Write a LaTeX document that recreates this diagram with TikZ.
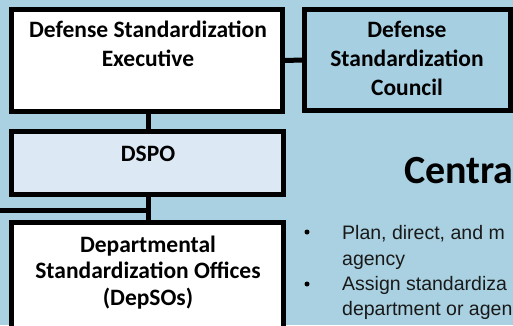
\documentclass[tikz,border=0pt]{standalone}
\usepackage{fontspec}
\setmainfont{Carlito}
\newfontfamily\bodyfont{Liberation Sans}
\definecolor{bgblue}{HTML}{A9D1E1}
\definecolor{councilblue}{HTML}{A6CFE1}
\definecolor{dspofill}{HTML}{DCE9F5}
\tikzset{
  orgbox/.style={draw=black, line width=5pt, inner sep=0pt},
  boxtext/.style={font=\fontsize{23.5}{29}\selectfont\bfseries, anchor=base, inner sep=0pt},
  link/.style={draw=black, line width=5pt},
  bullettext/.style={font=\bodyfont\fontsize{19.5}{23}\selectfont, anchor=base west, inner sep=0pt, text=black!90},
  bulletdot/.style={circle, fill=black, inner sep=0pt, minimum size=5pt},
}
\begin{document}
\begin{tikzpicture}[x=1pt,y=-1pt]
\useasboundingbox (0,0) rectangle (513,325);
\clip (0,0) rectangle (513,325);
\fill[bgblue] (0,0) rectangle (513,325);
% boxes
\node[orgbox, fill=white, minimum width=271pt, minimum height=102pt] (exec) at (147,60.5) {};
\node[orgbox, fill=councilblue, minimum width=206pt, minimum height=101pt] (council) at (407.5,60) {};
\node[orgbox, fill=dspofill, minimum width=272pt, minimum height=63pt] (dspo) at (147.5,163) {};
\node[orgbox, fill=white, minimum width=272pt, minimum height=140pt] (depsos) at (147.5,292.5) {};
% connectors
\coordinate (leftend) at (0,210);
\draw[link] (exec.east) -- (council.west);
\draw[link] (exec.south -| 148,0) -- (dspo.north -| 148,0);
\draw[link] (dspo.south -| 148,0) -- (depsos.north -| 148,0);
\draw[link] (leftend) -- (148,210);
% box texts
\node[boxtext] (exec1) at (148,37) {Defense Standardization};
\node[boxtext] (exec2) at (148,66) {Executive};
\node[boxtext] (coun1) at (407,37) {Defense};
\node[boxtext] (coun2) at (407,66) {Standardization};
\node[boxtext] (coun3) at (407,95) {Council};
\node[boxtext] (dspot) at (148,161) {DSPO};
\node[boxtext] (dep1) at (148,252) {Departmental};
\node[boxtext] (dep2) at (148,278) {Standardization Offices};
\node[boxtext] (dep3) at (148,305) {(DepSOs)};
% title
\node[font=\fontsize{40}{44}\selectfont\bfseries, anchor=base west, inner sep=0pt] (title) at (404,183) {Centra};
% bullets
\node[bulletdot] (b1) at (307,232) {};
\node[bulletdot] (b2) at (307,284) {};
\node[bullettext] (l1) at (342,239) {Plan, direct, and m};
\node[bullettext] (l2) at (342,265) {agency};
\node[bullettext] (l3) at (342,290) {Assign standardiza};
\node[bullettext] (l4) at (342,315) {department or agen};
\end{tikzpicture}
\end{document}
